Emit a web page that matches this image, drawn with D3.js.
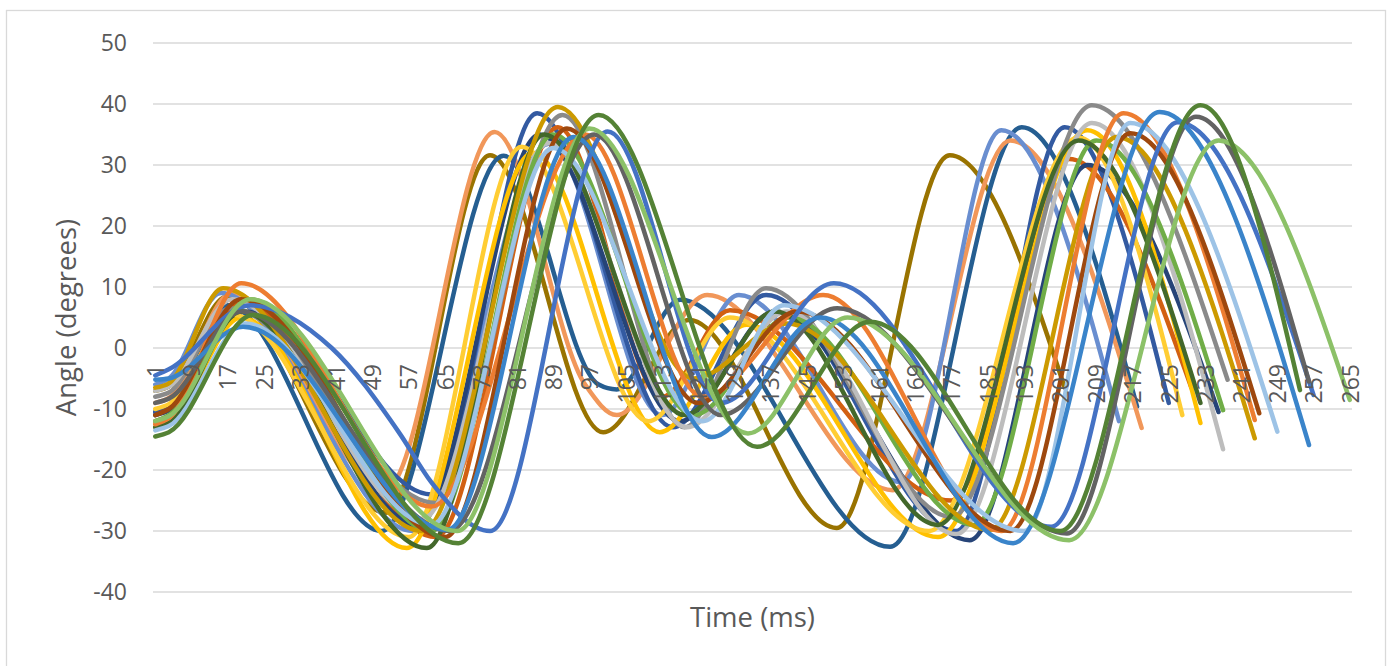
<!DOCTYPE html>
<html>
<head>
<meta charset="utf-8">
<script src="https://cdn.jsdelivr.net/npm/d3@7"></script>
<style>
  html, body { margin: 0; padding: 0; background: #fff; }
  svg { display: block; }
  text { font-family: "Open Sans", "Noto Sans", sans-serif; fill: #595959; }
</style>
</head>
<body>
<svg id="chart" width="1390" height="666"></svg>
<script>
// Category axis: samples 1..265, labelled every 8th sample
const categoryCount = 265;
const xTickLabels = d3.range(1, 266, 8);
const yTickLabels = [-40, -30, -20, -10, 0, 10, 20, 30, 40, 50];

// Each trial: [sample, angle in degrees] at its turning points
const trialOlive      = [[1,-7],[4,-6.3],[17,8.5],[52,-27],[75,31.6],[100,-13.8],[119,4.6],[151.6,-29.5],[176.6,31.6],[202,-6.5]];
const trialTeal       = [[1,-10.5],[4,-9.8],[17,7],[51,-30],[78,31.5],[99,-6],[103,-6.8],[117,7.9],[163.4,-32.6],[192.5,36.2],[218,-9.6]];
const trialPeach      = [[1,-9],[4,-8.2],[18,9],[52,-23],[76,35.4],[96,-6],[103,-11],[123,8.7],[164,-23.3],[190,34],[219,-13.1]];
const trialPeriwinkle = [[1,-6],[4,-5],[15.5,9],[58,-30],[88,33.5],[113,-11],[130,8.7],[166,-22],[188,35.7],[214,-12]];
const trialRoyal      = [[1,-10.5],[4,-9.8],[21,7.5],[62,-24],[85.4,38.5],[115.4,-13],[136,8.7],[178,-30],[202,36.2],[225,-9]];
const trialRust       = [[1,-12],[4,-11.2],[19.7,7.5],[63,-31],[90,36.2],[113,-8],[128,6.2],[177,-25],[203,31],[230,-6.5]];
const trialNavy       = [[1,-11],[4,-10.3],[21,6],[59,-29],[86,35],[117,-12],[138,6],[181,-31.5],[207,30],[236,-10.5]];
const trialYellow     = [[1,-13],[4,-12.3],[20,5],[56.6,-32.8],[84.5,32],[112.5,-13.8],[131.7,3.8],[174,-31],[207,35.7],[232,-12.3]];
const trialLemon      = [[1,-10],[4,-9.2],[18,5.5],[57,-31],[82,33],[110,-12],[128,5],[172,-30],[205,34.5],[228,-11]];
const trialGray       = [[1,-8],[4,-7.3],[17.5,6.5],[63,-25.4],[91,38.2],[118,-13],[136,9.8],[177,-27.7],[208,39.8],[238,-5.2]];
const trialSilver     = [[1,-7],[4,-6.3],[18,8],[60,-28],[88,33.6],[118.5,-13],[140.6,6],[178,-30.5],[208,36.9],[237,-16.6]];
const trialGreen      = [[1,-12],[4,-11],[22,8],[62,-30],[89,35],[120,-11],[141,5],[182,-29],[209,34],[237,-10.2]];
const trialForest     = [[1,-13],[4,-12.3],[20,6],[61,-32.8],[87,35],[118,-11],[138,6],[174,-29],[205,34],[232,-9]];
const trialGold       = [[1,-6.5],[4,-5.8],[16,9.8],[60,-30],[90,39.5],[120,-5],[140.6,4],[185.5,-29.8],[213.5,34.6],[244,-14.8]];
const trialOrange     = [[1,-12.5],[4,-11.5],[20,10.6],[62,-26],[96,35],[122,-8],[148.6,8.7],[188,-30],[215,38.5],[244,-11.8]];
const trialBrown      = [[1,-11],[4,-10],[20,8],[65,-31],[92,36],[121,-9],[143,6],[190,-30],[216.5,35.2],[245,-10.7]];
const trialSky        = [[1,-13.5],[4,-12.8],[21,4],[62,-29],[89,32.8],[122,-12],[140,7],[193,-30],[216.5,36.9],[249,-13.7]];
const trialBlue       = [[1,-4.5],[4,-3.5],[22,7],[40,0],[55,-14],[62,-22],[75,-30],[101,35.5],[126,-9],[151,10.6],[199,-29.3],[227,37],[257,-7.7]];
const trialCharcoal   = [[1,-9],[4,-8.3],[20,6],[66,-30],[98,35],[126,-11],[151.7,6.5],[202.5,-30.4],[231,37.9],[256,-5.5]];
const trialAzure      = [[1,-5.2],[4,-5],[20.4,3.5],[65.5,-29.8],[93.5,34.6],[124,-14.6],[148,5],[190.6,-32],[223,38.7],[256,-15.9]];
const trialLime       = [[1,-12],[4,-11.2],[22,8],[67.7,-30],[97,36],[132,-14],[154,5],[203,-31.5],[236,34],[265,-8.5]];
const trialMoss       = [[1,-14.5],[4,-13.8],[22.6,5.4],[68,-32],[99,38.2],[134,-16.2],[159,4.3],[201,-30],[232,39.8],[254,-6.9]];

const trials = [trialOlive, trialTeal, trialPeach, trialPeriwinkle, trialRoyal, trialRust,
  trialNavy, trialYellow, trialLemon, trialGray, trialSilver, trialGreen, trialForest,
  trialGold, trialOrange, trialBrown, trialSky, trialBlue, trialCharcoal, trialAzure,
  trialLime, trialMoss];

const trialColors = ["#997300", "#255E91", "#F1975A", "#698ED0", "#335AA1", "#D26012",
  "#264478", "#FFC000", "#FFCD33", "#8A8A8A", "#BDBDBD", "#70AD47", "#43682B",
  "#CC9A00", "#ED7D31", "#9E480E", "#9DC3E6", "#4472C4", "#636363", "#3A84CA",
  "#8CC168", "#548235"];

const svg = d3.select("#chart");
const plot = { left: 153, right: 1352, top: 43, bottom: 592 };

// outer chart frame
svg.append("rect")
  .attr("x", 6.5).attr("y", 10.5)
  .attr("width", 1379).attr("height", 700)
  .attr("fill", "#fff").attr("stroke", "#D9D9D9").attr("stroke-width", 1.3);

const x = d3.scaleLinear().domain([0.5, categoryCount + 0.5]).range([plot.left, plot.right]);
const y = d3.scaleLinear().domain([-40, 50]).range([plot.bottom, plot.top]);

// horizontal gridlines
svg.append("g").selectAll("line")
  .data(yTickLabels)
  .join("line")
  .attr("x1", plot.left).attr("x2", plot.right)
  .attr("y1", d => y(d)).attr("y2", d => y(d))
  .attr("stroke", "#D9D9D9").attr("stroke-width", 1.5);

// value axis labels (plain hyphen for negatives)
const yAxis = svg.append("g")
  .attr("transform", `translate(${plot.left},0)`)
  .call(d3.axisLeft(y).tickValues(yTickLabels).tickSize(0).tickPadding(26)
    .tickFormat(d => String(d)));
yAxis.select(".domain").remove();
yAxis.selectAll("text")
  .style("font-family", "'Open Sans', 'Noto Sans', sans-serif")
  .style("font-size", "23px")
  .attr("fill", "#595959");

// trial traces
const line = d3.line()
  .x(d => x(d[0]))
  .y(d => y(d[1]))
  .curve(d3.curveMonotoneX);

svg.append("g")
  .selectAll("path")
  .data(trials)
  .join("path")
  .attr("d", line)
  .attr("fill", "none")
  .attr("stroke", (d, i) => trialColors[i])
  .attr("stroke-width", 4.5)
  .attr("stroke-linejoin", "round")
  .attr("stroke-linecap", "round");

// category axis crossing at zero, labels rotated
const xAxis = svg.append("g")
  .attr("transform", `translate(0,${y(0)})`)
  .call(d3.axisBottom(x).tickValues(xTickLabels).tickSize(0).tickFormat(d => String(d)));
xAxis.select(".domain").remove();
xAxis.selectAll("text")
  .attr("transform", "rotate(-90)")
  .attr("x", -16)
  .attr("y", 0)
  .attr("dy", "0.36em")
  .attr("text-anchor", "end")
  .style("font-family", "'Open Sans', 'Noto Sans', sans-serif")
  .style("font-size", "23px")
  .attr("fill", "#595959");

// axis titles
svg.append("text")
  .attr("x", (plot.left + plot.right) / 2)
  .attr("y", 627)
  .attr("text-anchor", "middle")
  .style("font-size", "27.5px")
  .text("Time (ms)");

svg.append("text")
  .attr("transform", `translate(76,${(plot.top + plot.bottom) / 2}) rotate(-90)`)
  .attr("text-anchor", "middle")
  .style("font-size", "27.5px")
  .text("Angle (degrees)");
</script>
</body>
</html>
